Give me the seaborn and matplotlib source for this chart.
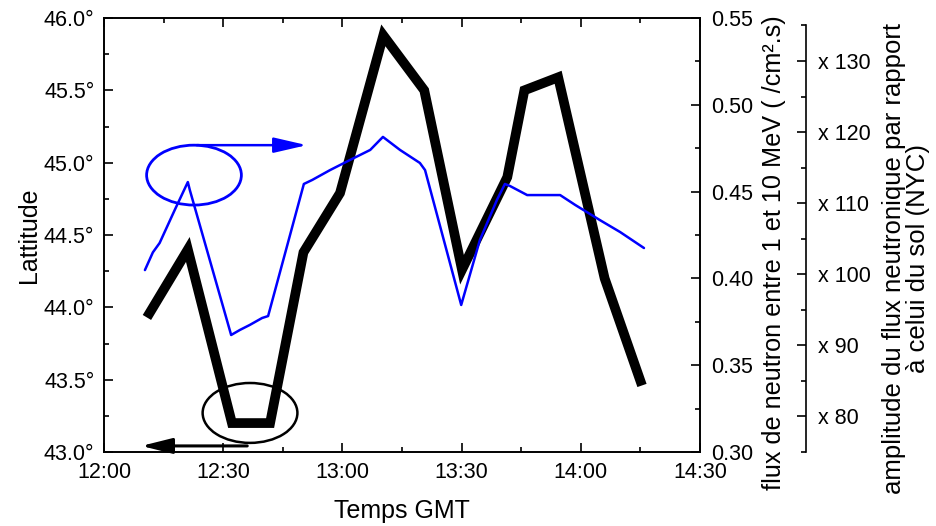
import numpy as np
import pandas as pd
import matplotlib
matplotlib.use("Agg")
import matplotlib.pyplot as plt
import matplotlib.ticker as mticker
from matplotlib.patches import Ellipse
import seaborn as sns

# latitude of the flight (minutes after 12:00 GMT)
lat_minutes = [10.8, 21.1, 32.2, 41.8, 50.2, 59.4, 70.3, 80.6, 90.1, 101.5, 105.8, 114.3, 126.0, 135.4]
lat_values = [43.93, 44.40, 43.20, 43.20, 44.38, 44.79, 45.88, 45.50, 44.26, 44.90, 45.50, 45.59, 44.20, 43.46]

# neutron flux 1-10 MeV (/cm2.s)
flux_minutes = [10.3, 12.3, 14.0, 17.8, 21.1, 21.6, 32.0, 34.2, 36.7, 39.8, 41.3,
                50.3, 52.4, 56.9, 61.9, 67.0, 70.2, 74.5, 79.5, 80.8, 89.9,
                94.6, 98.9, 100.9, 102.2, 106.5, 114.8, 118.6, 124.8, 129.9, 135.9]
flux_values = [0.4048, 0.4150, 0.4204, 0.4394, 0.4555, 0.4509, 0.3674, 0.3703, 0.3732, 0.3772, 0.3783,
               0.4544, 0.4567, 0.4624, 0.4682, 0.4740, 0.4815, 0.4740, 0.4665, 0.4624, 0.3847,
               0.4221, 0.4452, 0.4544, 0.4532, 0.4480, 0.4480, 0.4423, 0.4336, 0.4267, 0.4175]

time_ticks = [0, 30, 60, 90, 120, 150]
time_labels = ["12:00", "12:30", "13:00", "13:30", "14:00", "14:30"]
ratio_ticks = [80, 90, 100, 110, 120, 130]

lat_df = pd.DataFrame({"t": lat_minutes, "lat": lat_values})
flux_df = pd.DataFrame({"t": flux_minutes, "flux": flux_values})

sns.set_style("ticks")
plt.rcParams["font.family"] = ["Liberation Sans", "DejaVu Sans"]
plt.rcParams["font.size"] = 15.5
for k in ["text.color", "axes.labelcolor", "xtick.color", "ytick.color", "axes.edgecolor"]:
    plt.rcParams[k] = "black"

fig = plt.figure(figsize=(9.37, 5.26), dpi=100)
ax = fig.add_axes([104 / 937, 1 - 452 / 526, 596 / 937, 434 / 526])

sns.lineplot(data=lat_df, x="t", y="lat", ax=ax, color="black", linewidth=7,
             solid_capstyle="butt", solid_joinstyle="miter", sort=False)
ax.set_xlim(0, 150)
ax.set_ylim(43.0, 46.0)
ax.set_xticks(time_ticks)
ax.set_xticklabels(time_labels)
ax.xaxis.set_minor_locator(mticker.MultipleLocator(15))
ax.yaxis.set_major_locator(mticker.MultipleLocator(0.5))
ax.yaxis.set_minor_locator(mticker.MultipleLocator(0.25))
ax.yaxis.set_major_formatter(mticker.FuncFormatter(lambda v, p: f"{v:.1f}\u00b0"))
ax.tick_params(which="both", direction="in", top=True, width=1.2, labelsize=15.5)
ax.tick_params(which="major", length=6.5, pad=7)
ax.tick_params(which="minor", length=3.5)
ax.set_xlabel("Temps GMT", fontsize=18, labelpad=12)
ax.set_ylabel("Lattitude", fontsize=18, labelpad=2)

ax2 = ax.twinx()
sns.lineplot(data=flux_df, x="t", y="flux", ax=ax2, color="#0000ff", linewidth=1.8, sort=False)
ax2.set_ylim(0.30, 0.55)
ax2.yaxis.set_major_locator(mticker.MultipleLocator(0.05))
ax2.yaxis.set_minor_locator(mticker.MultipleLocator(0.025))
ax2.yaxis.set_major_formatter(mticker.FormatStrFormatter("%.2f"))
ax2.tick_params(which="both", direction="in", width=1.2, labelsize=15.5)
ax2.tick_params(which="major", length=6.5, pad=8)
ax2.tick_params(which="minor", length=3.5)
ax2.set_ylabel("flux de neutron entre 1 et 10 MeV ( /cm\u00b2.s)", fontsize=18.2,
               labelpad=6, y=0.46)

# third axis: ratio to ground level flux
ax3 = ax.twinx()
ax3.spines["right"].set_position(("axes", 1 + 106 / 596))
for s in ["top", "left", "bottom"]:
    ax3.spines[s].set_visible(False)
ax3.set_ylim(75, 136.05)
ax3.spines["right"].set_bounds(75, 135)
ax3.set_yticks(ratio_ticks)
ax3.set_yticklabels([f"x {v}" for v in ratio_ticks])
ax3.yaxis.set_minor_locator(mticker.FixedLocator([75, 85, 95, 105, 115, 125, 135]))
ax3.tick_params(which="both", direction="in", width=1.2, labelsize=15.5)
ax3.tick_params(which="major", length=6.5, pad=9)
ax3.tick_params(which="minor", length=3.5)
ax3.set_ylabel("amplitude du flux neutronique par rapport\n\u00e0 celui du sol (NYC)",
               fontsize=18.5, labelpad=8, linespacing=0.95, y=0.445)

for a in [ax, ax2, ax3]:
    for s in a.spines.values():
        s.set_linewidth(1.2)

# annotation ellipses and arrows
ax.add_patch(Ellipse((0.151, 0.638), 0.159, 0.138, transform=ax.transAxes,
                     fill=False, edgecolor="#0000ff", linewidth=2, zorder=5))
ax.annotate("", xy=(0.345, 0.707), xytext=(0.151, 0.707), xycoords="axes fraction",
            arrowprops=dict(arrowstyle="-|>,head_length=1.3,head_width=0.3",
                            color="#0000ff", linewidth=1.8))
ax.add_patch(Ellipse((0.245, 0.090), 0.159, 0.138, transform=ax.transAxes,
                     fill=False, edgecolor="black", linewidth=1.8, zorder=5))
ax.annotate("", xy=(0.058, 0.014), xytext=(0.245, 0.014), xycoords="axes fraction",
            arrowprops=dict(arrowstyle="-|>,head_length=1.2,head_width=0.3",
                            color="black", linewidth=2.2))

fig.savefig("out.png", dpi=100)
